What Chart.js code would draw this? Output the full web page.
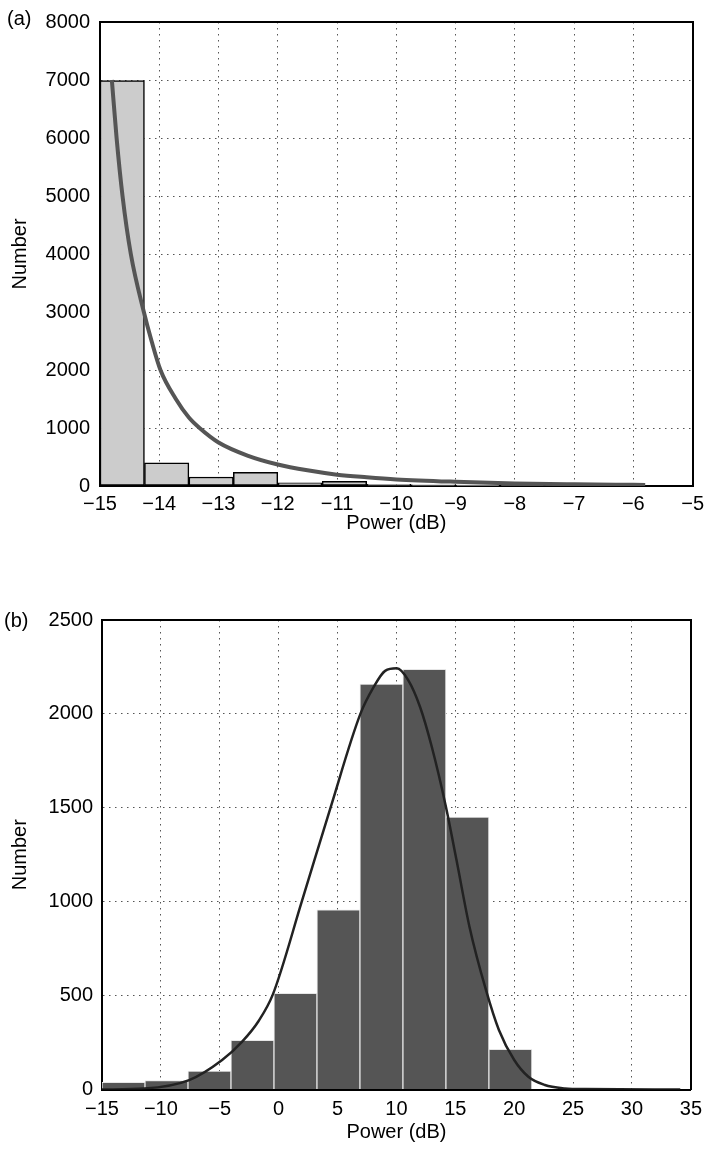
<!DOCTYPE html>
<html>
<head>
<meta charset="utf-8">
<script src="https://cdn.jsdelivr.net/npm/chart.js@4.4.0/dist/chart.umd.min.js"></script>
<style>
body { margin: 0; background: #fff; }
#wrap { position: relative; width: 710px; height: 1149px; font-family: "Liberation Sans", Arial, sans-serif; }
canvas { position: absolute; left: 0; }
#histA { top: 0; }
#histB { top: 540px; }
.tag { position: absolute; font-size: 20px; line-height: 20px; color: #000; }
</style>
</head>
<body>
<div id="wrap">
  <canvas id="histA" width="710" height="540"></canvas>
  <canvas id="histB" width="710" height="609"></canvas>
  <div class="tag" style="left:7px; top:8px;">(a)</div>
  <div class="tag" style="left:4px; top:610px;">(b)</div>
</div>
<script>
// (a) histogram, bins of 0.75 dB
const binsA = [-14.625, -13.875, -13.125, -12.375, -11.625, -10.875, -10.125, -9.375, -8.625, -7.875, -7.125, -6.375];
const countsA = [6990, 400, 155, 235, 55, 80, 30, 20, 15, 10, 8, 6];
// fitted curve (a)
const fitAx = [-14.8, -14.72, -14.62, -14.48, -14.26, -14.13, -13.98, -13.72, -13.5, -13.32, -13.0, -12.5, -12.0, -11.5, -11.0, -10.5, -10.0, -9.0, -8.0, -7.0, -6.0, -5.8];
const fitAy = [7000, 6000, 5000, 4000, 3000, 2500, 2000, 1500, 1180, 1000, 750, 520, 370, 270, 195, 150, 114, 73, 45, 30, 20, 18];

// (b) histogram
const binsB = [-13.175, -9.525, -5.875, -2.225, 1.425, 5.075, 8.725, 12.375, 16.025, 19.675];
const countsB = [38, 47, 98, 262, 512, 957, 2159, 2237, 1451, 214];
// fitted curve (b)
const fitBx = [-15, -11.4, -7.6, -4.8, -3.1, -1.7, -0.5, 1.96, 4.4, 6.94, 8.06, 9.04, 10.03, 11.0, 12.0, 13.0, 14.2, 15.1, 16.2, 17.6, 18.7, 20.0, 21.2, 22.6, 24.3, 26.0, 34.1];
const fitBy = [0, 5, 50, 157, 255, 365, 505, 1000, 1500, 2000, 2142, 2229, 2243, 2180, 2038, 1825, 1506, 1222, 867, 530, 317, 157, 68, 24, 6, 2, 0];

Chart.defaults.font.family = '"Liberation Sans", Arial, sans-serif';
Chart.defaults.font.size = 20;
Chart.defaults.color = '#000';

const minus = v => (v < 0 ? '\u2212' + Math.abs(v) : String(v));
const dots = { color: '#000', width: 2, dash: [1.5, 4.5] };
const grid = { color: '#555', lineWidth: 1, drawTicks: false, offset: false };
const frame = { color: '#000', width: 2 };

function panel(id, o) {
  return new Chart(document.getElementById(id), {
    type: 'bar',
    data: {
      datasets: [
        {
          type: 'line',
          data: o.fitX.map((x, i) => ({ x, y: o.fitY[i] })),
          borderColor: o.lineColor,
          borderWidth: o.lineWidth,
          pointRadius: 0,
          cubicInterpolationMode: 'monotone',
          fill: false,
          order: 1,
        },
        {
          type: 'bar',
          data: o.bins.map((x, i) => ({ x, y: o.counts[i] })),
          backgroundColor: o.barFill,
          borderColor: o.barEdge,
          borderWidth: o.barBorder,
          borderSkipped: o.skip,
          barPercentage: 1,
          categoryPercentage: 1,
          order: 2,
        },
      ],
    },
    options: {
      responsive: false,
      animation: false,
      devicePixelRatio: 1,
      layout: { padding: { top: o.padTop, right: o.padRight, left: 0, bottom: 0 } },
      plugins: { legend: { display: false }, tooltip: { enabled: false } },
      scales: {
        x: {
          type: 'linear', min: o.xMin, max: o.xMax, offset: false,
          ticks: { stepSize: o.xStep, padding: o.xPad, callback: minus, maxRotation: 0, autoSkip: false },
          grid: grid, border: dots,
          title: { display: true, text: 'Power (dB)', padding: { top: 0, bottom: 5 } },
          afterFit: s => { s.height = o.xHeight; },
        },
        y: {
          min: 0, max: o.yMax,
          ticks: { stepSize: o.yStep, padding: o.yPad, callback: v => String(v) },
          grid: grid, border: dots,
          title: { display: true, text: 'Number', padding: { top: 8, bottom: 0 } },
          afterFit: s => { s.width = o.yWidth; },
        },
        x2: {
          type: 'linear', position: 'top', min: o.xMin, max: o.xMax,
          ticks: { display: false }, grid: { display: false, drawTicks: false }, border: frame,
          afterFit: s => { s.height = 0; },
        },
        y2: {
          type: 'linear', position: 'right', min: 0, max: o.yMax,
          ticks: { display: false }, grid: { display: false, drawTicks: false }, border: frame,
          afterFit: s => { s.width = 0; },
        },
      },
    },
  });
}

panel('histA', {
  bins: binsA, counts: countsA, fitX: fitAx, fitY: fitAy,
  barFill: '#cccccc', barEdge: '#000', barBorder: 1.5, skip: false,
  lineColor: '#555555', lineWidth: 4,
  xMin: -15, xMax: -5, xStep: 1, xPad: 6, xHeight: 54,
  yMax: 8000, yStep: 1000, yPad: 10, yWidth: 100,
  padTop: 16, padRight: 14,
});

panel('histB', {
  bins: binsB, counts: countsB, fitX: fitBx, fitY: fitBy,
  barFill: '#555555', barEdge: '#e6e6e6', barBorder: 1, skip: 'start',
  lineColor: '#222', lineWidth: 2.5,
  xMin: -15, xMax: 35, xStep: 5, xPad: 8, xHeight: 59.5,
  yMax: 2500, yStep: 500, yPad: 9, yWidth: 102,
  padTop: 80, padRight: 13,
});
</script>
</body>
</html>
